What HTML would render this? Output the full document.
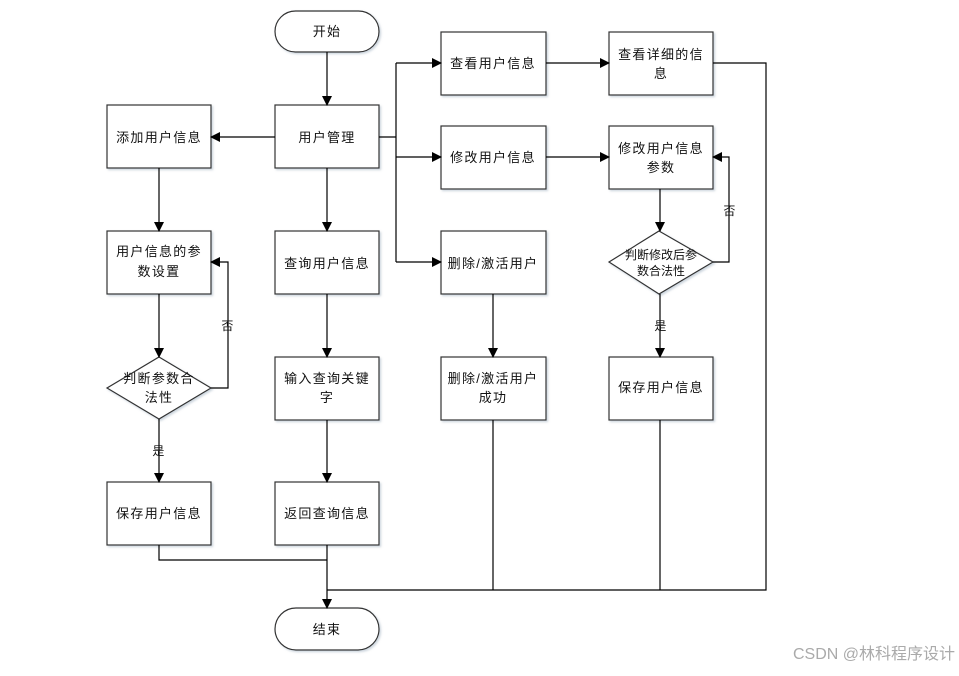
<!DOCTYPE html>
<html><head><meta charset="utf-8"><style>
body{margin:0;background:#fff;}
svg text{font-family:"Liberation Sans","Noto Sans CJK SC",sans-serif;font-size:13px;fill:#111;text-anchor:middle;letter-spacing:1.3px;}
</style></head><body>
<svg width="959" height="671" viewBox="0 0 959 671" xmlns="http://www.w3.org/2000/svg">
<defs>
<marker id="a" markerWidth="10" markerHeight="10" refX="9" refY="5" orient="auto" markerUnits="userSpaceOnUse">
<path d="M0,0 L10,5 L0,10 z" fill="#000"/></marker>
<filter id="s" x="-10%" y="-10%" width="130%" height="130%"><feDropShadow dx="1.5" dy="1.5" stdDeviation="1" flood-color="#9ab" flood-opacity="0.5"/></filter>
</defs>
<g fill="#fff" stroke="#333" stroke-width="1.2" filter="url(#s)">
<rect x="275" y="11" width="104" height="41" rx="20.5"/>
<rect x="275" y="105" width="104" height="63"/>
<rect x="107" y="105" width="104" height="63"/>
<rect x="107" y="231" width="104" height="63"/>
<rect x="275" y="231" width="104" height="63"/>
<rect x="441" y="32" width="105" height="63"/>
<rect x="609" y="32" width="104" height="63"/>
<rect x="441" y="126" width="105" height="63"/>
<rect x="609" y="126" width="104" height="63"/>
<rect x="441" y="231" width="105" height="63"/>
<polygon points="659,231 713,262 659,294 609,262"/>
<polygon points="159,357 211,388 159,419 107,388"/>
<rect x="275" y="357" width="104" height="63"/>
<rect x="441" y="357" width="105" height="63"/>
<rect x="609" y="357" width="104" height="63"/>
<rect x="107" y="482" width="104" height="63"/>
<rect x="275" y="482" width="104" height="63"/>
<rect x="275" y="608" width="104" height="42" rx="21"/>
</g>
<g fill="none" stroke="#000" stroke-width="1.2">
<line x1="327" y1="52" x2="327" y2="105" marker-end="url(#a)"/>
<line x1="275" y1="137" x2="211" y2="137" marker-end="url(#a)"/>
<line x1="327" y1="168" x2="327" y2="231" marker-end="url(#a)"/>
<line x1="159" y1="168" x2="159" y2="231" marker-end="url(#a)"/>
<line x1="159" y1="294" x2="159" y2="357" marker-end="url(#a)"/>
<polyline points="211,388 228,388 228,262 211,262" marker-end="url(#a)"/>
<line x1="159" y1="419" x2="159" y2="482" marker-end="url(#a)"/>
<line x1="327" y1="294" x2="327" y2="357" marker-end="url(#a)"/>
<line x1="327" y1="420" x2="327" y2="482" marker-end="url(#a)"/>
<line x1="327" y1="545" x2="327" y2="608" marker-end="url(#a)"/>
<polyline points="159,545 159,560 327,560"/>
<line x1="379" y1="137" x2="396" y2="137"/>
<line x1="396" y1="63" x2="396" y2="262"/>
<line x1="396" y1="63" x2="441" y2="63" marker-end="url(#a)"/>
<line x1="396" y1="157" x2="441" y2="157" marker-end="url(#a)"/>
<line x1="396" y1="262" x2="441" y2="262" marker-end="url(#a)"/>
<line x1="546" y1="63" x2="609" y2="63" marker-end="url(#a)"/>
<line x1="546" y1="157" x2="609" y2="157" marker-end="url(#a)"/>
<line x1="493" y1="294" x2="493" y2="357" marker-end="url(#a)"/>
<line x1="660" y1="189" x2="660" y2="231" marker-end="url(#a)"/>
<polyline points="713,262 729,262 729,157 713,157" marker-end="url(#a)"/>
<line x1="660" y1="294" x2="660" y2="357" marker-end="url(#a)"/>
<polyline points="713,63 766,63 766,590 327,590"/>
<line x1="493" y1="420" x2="493" y2="590"/>
<line x1="660" y1="420" x2="660" y2="590"/>
</g>
<text x="327" y="36">开始</text>
<text x="327" y="142">用户管理</text>
<text x="159" y="142">添加用户信息</text>
<text x="159" y="256">用户信息的参</text><text x="159" y="276">数设置</text>
<text x="327" y="268">查询用户信息</text>
<text x="493" y="68">查看用户信息</text>
<text x="661" y="59">查看详细的信</text><text x="661" y="78">息</text>
<text x="493" y="162">修改用户信息</text>
<text x="661" y="153">修改用户信息</text><text x="661" y="172">参数</text>
<text x="493" y="268">删除/激活用户</text>
<text x="661" y="259" style="font-size:12px;letter-spacing:0">判断修改后参</text><text x="661" y="275" style="font-size:12px;letter-spacing:0">数合法性</text>
<text x="730" y="215" style="font-size:12px">否</text>
<text x="661" y="330" style="font-size:12px">是</text>
<text x="159" y="383">判断参数合</text><text x="159" y="402">法性</text>
<text x="228" y="330" style="font-size:12px">否</text>
<text x="159" y="455" style="font-size:12px">是</text>
<text x="327" y="383">输入查询关键</text><text x="327" y="402">字</text>
<text x="493" y="383">删除/激活用户</text><text x="493" y="402">成功</text>
<text x="661" y="392">保存用户信息</text>
<text x="159" y="518">保存用户信息</text>
<text x="327" y="518">返回查询信息</text>
<text x="327" y="634">结束</text>
<text x="955" y="659" style="font-size:16px;fill:#aaa;text-anchor:end;letter-spacing:0">CSDN @林科程序设计</text>
</svg>
</body></html>
